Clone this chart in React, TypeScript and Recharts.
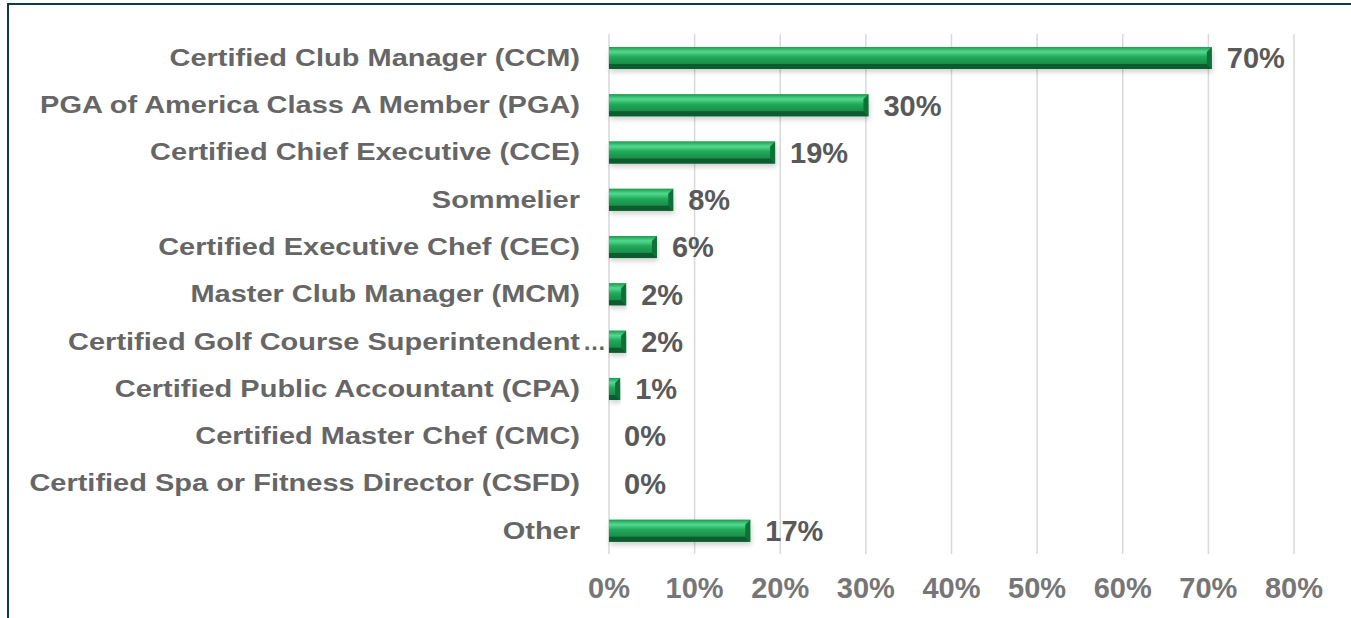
import React from 'react';
import { BarChart, Bar, XAxis, YAxis, CartesianGrid, LabelList } from 'recharts';

// Professional certifications held (share of respondents)
const categories = [
  'Certified Club Manager (CCM)',
  'PGA of America Class A Member (PGA)',
  'Certified Chief Executive (CCE)',
  'Sommelier',
  'Certified Executive Chef (CEC)',
  'Master Club Manager (MCM)',
  'Certified Golf Course Superintendent…',
  'Certified Public Accountant (CPA)',
  'Certified Master Chef (CMC)',
  'Certified Spa or Fitness Director (CSFD)',
  'Other',
];
const shares = [70.4, 30.3, 19.4, 7.5, 5.6, 2.0, 2.0, 1.3, 0, 0, 16.5];
const xTicks = [0, 10, 20, 30, 40, 50, 60, 70, 80];

const FONT = '"Liberation Sans", Arial, sans-serif';

const chartData = categories.map((name, i) => ({ name, value: shares[i] }));

// bevelled green bar, roughly like the office "bevel" preset
function BevelBar(props: any) {
  const { x, y, width, height } = props;
  if (!width || width <= 0.5) return null;
  const b = Math.min(5, width / 2);
  return (
    <g filter="url(#barShadow)">
      <rect x={x} y={y} width={width} height={height} fill="url(#barFace)" />
      <polygon
        points={`${x},${y} ${x + width},${y} ${x + width - b},${y + b} ${x},${y + b}`}
        fill="url(#barTop)"
      />
      <polygon
        points={`${x},${y + height - b} ${x + width - b},${y + height - b} ${x + width},${y + height} ${x},${y + height}`}
        fill="#0c5c2e"
      />
      <polygon
        points={`${x + width - b},${y + b} ${x + width},${y} ${x + width},${y + height} ${x + width - b},${y + height - b}`}
        fill="#0f7238"
      />
    </g>
  );
}

// category names are drawn wide (stretched) like in the source picture;
// a truncated name keeps its ellipsis hanging past the label edge
function CategoryTick(props: any) {
  const { x, y, payload } = props;
  const label: string = payload.value;
  const cut = label.endsWith('…');
  const head = cut ? label.slice(0, -1) : label;
  const common = { fontFamily: FONT, fontSize: 23, fontWeight: 'bold' as const, fill: '#666666' };
  return (
    <g transform={`translate(${x},${y})`}>
      <text transform="scale(1.26,1)" x={0} y={0} dy="0.36em" textAnchor="end" {...common}>
        {head}
      </text>
      {cut && (
        <text x={3} y={0} dy="0.36em" textAnchor="start" {...common}>
          …
        </text>
      )}
    </g>
  );
}

export default function App() {
  return (
    <div style={{ position: 'absolute', left: 0, top: 0, width: 1351, height: 618, background: '#fff' }}>
      <div
        style={{
          position: 'absolute',
          left: 7,
          top: 3,
          right: 0,
          bottom: 0,
          borderTop: '2px solid #0e3a45',
          borderLeft: '2px solid #0e3a45',
        }}
      />
      <BarChart
        width={1351}
        height={618}
        data={chartData}
        layout="vertical"
        margin={{ top: 34, right: 57, bottom: 0, left: 0 }}
        barSize={22}
        style={{ position: 'absolute', left: 0, top: 0 }}
      >
        <defs>
          <linearGradient id="barFace" x1="0" y1="0" x2="0" y2="1">
            <stop offset="0%" stopColor="#2db866" />
            <stop offset="25%" stopColor="#4cd487" />
            <stop offset="45%" stopColor="#22a95a" />
            <stop offset="75%" stopColor="#198f4a" />
            <stop offset="100%" stopColor="#137a3e" />
          </linearGradient>
          <linearGradient id="barTop" x1="0" y1="0" x2="0" y2="1">
            <stop offset="0%" stopColor="#1f9a50" />
            <stop offset="100%" stopColor="#55dc92" />
          </linearGradient>
          <filter id="barShadow" x="-5%" y="-30%" width="110%" height="180%">
            <feDropShadow dx="1" dy="3" stdDeviation="2.5" floodColor="#000" floodOpacity="0.18" />
          </filter>
        </defs>
        <CartesianGrid horizontal={false} stroke="#d9d9d9" strokeWidth={1.5} />
        <XAxis
          type="number"
          domain={[0, 80]}
          ticks={xTicks}
          tickFormatter={(v) => `${v}%`}
          axisLine={false}
          tickLine={false}
          tickSize={0}
          tickMargin={23}
          height={64}
          tick={{ fontFamily: FONT, fontSize: 29, fontWeight: 'bold', fill: '#767676' }}
          interval={0}
        />
        <YAxis
          type="category"
          dataKey="name"
          width={609}
          axisLine={false}
          tickLine={false}
          tickSize={0}
          tickMargin={29}
          interval={0}
          tick={<CategoryTick />}
        />
        <Bar dataKey="value" shape={<BevelBar />} isAnimationActive={false}>
          <LabelList
            dataKey="value"
            position="right"
            offset={15}
            formatter={(v: any) => `${Math.round(Number(v))}%`}
            style={{ fontFamily: FONT, fontSize: 29, fontWeight: 'bold', fill: '#595959' }}
          />
        </Bar>
      </BarChart>
    </div>
  );
}
